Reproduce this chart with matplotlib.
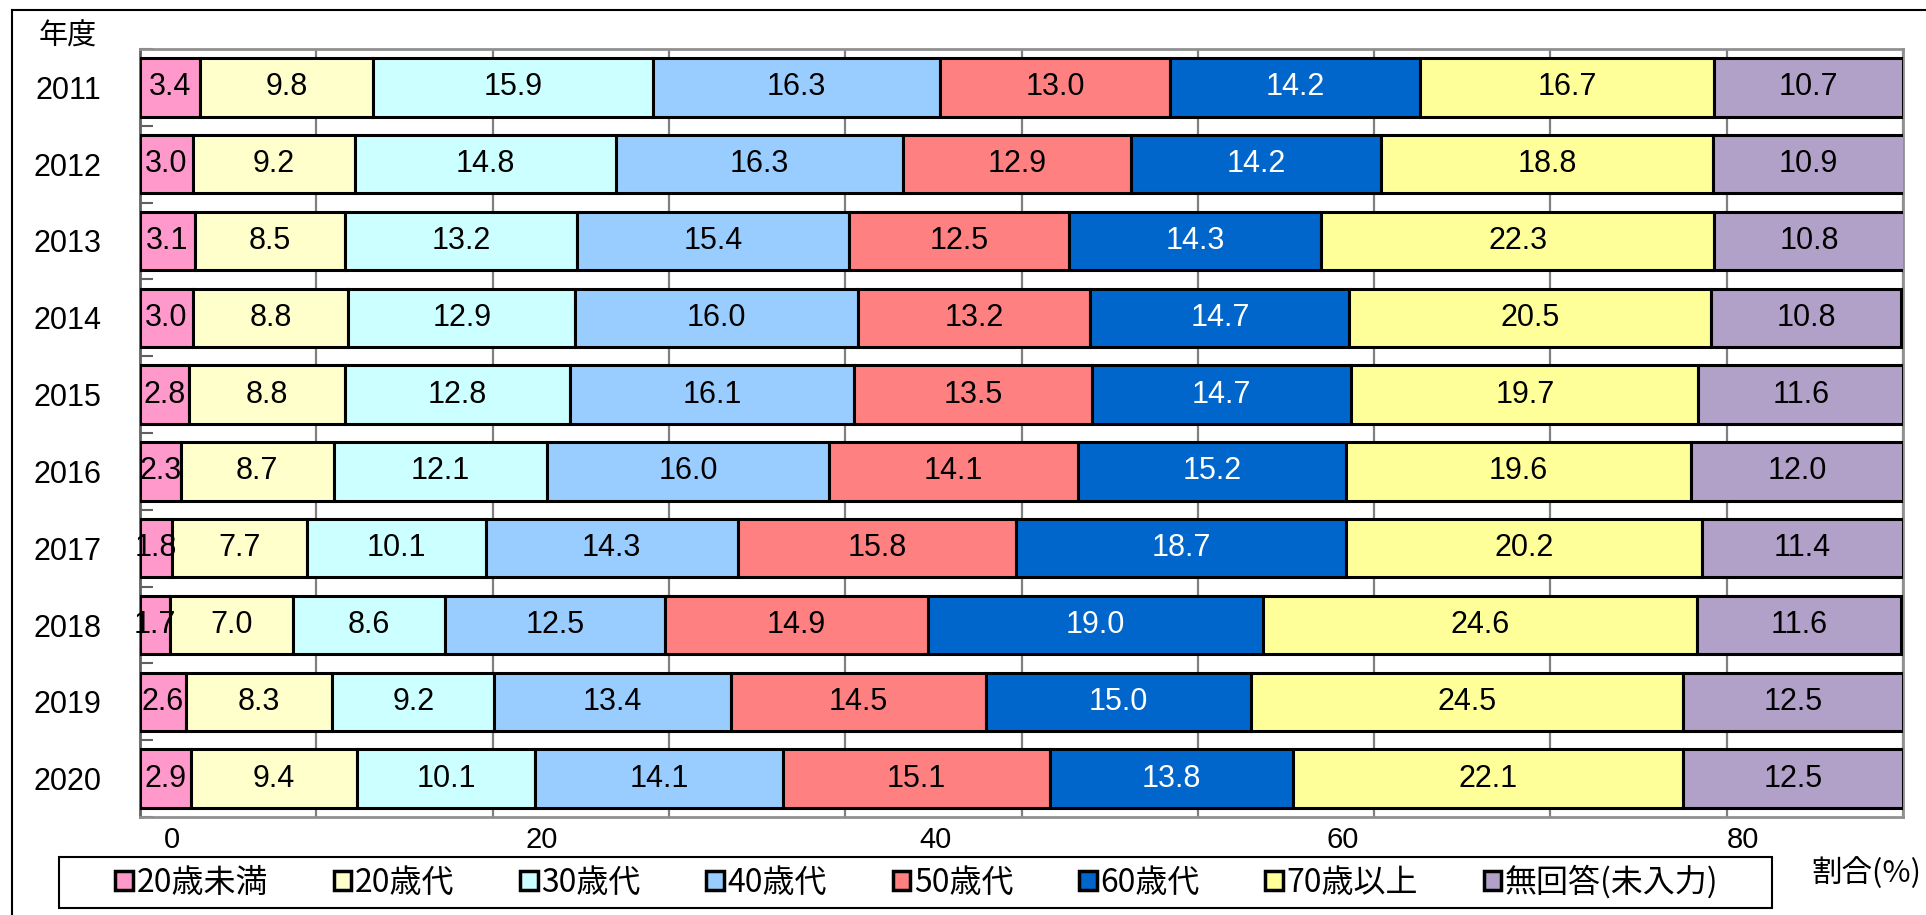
import matplotlib
matplotlib.use("Agg")
import matplotlib.pyplot as plt
from matplotlib.lines import Line2D
from matplotlib.patches import Patch, Rectangle
import numpy as np

plt.rcParams['font.family'] = ['Noto Sans CJK JP', 'DejaVu Sans']
NUMFONT = ['Liberation Sans', 'DejaVu Sans']

years = ["2011", "2012", "2013", "2014", "2015", "2016", "2017", "2018", "2019", "2020"]
categories = ["20歳未満", "20歳代", "30歳代", "40歳代", "50歳代", "60歳代", "70歳以上", "無回答(未入力)"]
under20 = [3.4, 3.0, 3.1, 3.0, 2.8, 2.3, 1.8, 1.7, 2.6, 2.9]
age20s = [9.8, 9.2, 8.5, 8.8, 8.8, 8.7, 7.7, 7.0, 8.3, 9.4]
age30s = [15.9, 14.8, 13.2, 12.9, 12.8, 12.1, 10.1, 8.6, 9.2, 10.1]
age40s = [16.3, 16.3, 15.4, 16.0, 16.1, 16.0, 14.3, 12.5, 13.4, 14.1]
age50s = [13.0, 12.9, 12.5, 13.2, 13.5, 14.1, 15.8, 14.9, 14.5, 15.1]
age60s = [14.2, 14.2, 14.3, 14.7, 14.7, 15.2, 18.7, 19.0, 15.0, 13.8]
age70plus = [16.7, 18.8, 22.3, 20.5, 19.7, 19.6, 20.2, 24.6, 24.5, 22.1]
no_answer = [10.7, 10.9, 10.8, 10.8, 11.6, 12.0, 11.4, 11.6, 12.5, 12.5]
series = [under20, age20s, age30s, age40s, age50s, age60s, age70plus, no_answer]
colors = ["#FF99CC", "#FFFFCC", "#CCFFFF", "#99CCFF", "#FF8080", "#0066CC", "#FFFF99", "#B1A0C7"]
text_colors = ["black"] * 5 + ["white"] + ["black"] * 2
xtick_labels = ["0", "20", "40", "60", "80"]

W, H = 1926, 915
fig = plt.figure(figsize=(W / 100, H / 100), dpi=100)
ax = fig.add_axes([140 / W, 1 - 817 / H, (1903 - 140) / W, (817 - 49) / H])

y = np.arange(len(years))
left = np.zeros(len(years))
for vals, col, tc in zip(series, colors, text_colors):
    vals = np.array(vals)
    ax.barh(y, vals, left=left, height=0.76, color=col, edgecolor="black",
            linewidth=2.2, zorder=3)
    for yi, (l, v) in enumerate(zip(left, vals)):
        ax.text(l + v / 2, yi, f"{v:.1f}", ha="center", va="center", fontsize=22,
                color=tc, zorder=4, family=NUMFONT)
    left = left + vals

ax.set_xlim(0, 100)
ax.set_ylim(len(years) - 0.5, -0.5)
ax.set_xticks(np.arange(0, 101, 10))
ax.set_xticklabels([])
ax.tick_params(axis="x", length=0)
ax.xaxis.grid(True, color="#808080", linewidth=1.6, zorder=0)
ax.set_axisbelow(True)
ax.set_yticks(y)
ax.set_yticklabels(years, fontsize=22, family=NUMFONT)
ax.tick_params(axis="y", length=0, pad=28)
ax.set_yticks(np.arange(-0.5, len(years), 1.0), minor=True)
ax.tick_params(axis="y", which="minor", direction="in", length=9, width=1.5, color="#606060")
for s in ["top", "right", "bottom"]:
    ax.spines[s].set_color("#909090")
    ax.spines[s].set_linewidth(2)
ax.spines["left"].set_color("#606060")
ax.spines["left"].set_linewidth(2)

# x tick labels as drawn in the reference (offset from gridlines)
label_pos = [1.8, 22.8, 45.1, 68.2, 90.9]
for p, t in zip(label_pos, xtick_labels):
    ax.text(p, -0.012, t, transform=ax.get_xaxis_transform(), ha="center", va="top",
            fontsize=21, family=NUMFONT)

fig.text(68 / W, 1 - 37 / H, "年度", ha="center", va="center", fontsize=21)
fig.text(1866 / W, 1 - 873 / H, "割合(%)", ha="center", va="center", fontsize=22)

# legend box and entries
fig.add_artist(Rectangle((59 / W, 1 - 908 / H), (1772 - 59) / W, (908 - 857) / H,
                         transform=fig.transFigure, facecolor="white", edgecolor="black",
                         linewidth=1.5, zorder=1))
handles = [Patch(facecolor=c, edgecolor="black", linewidth=2.5) for c in colors]
leg = fig.legend(handles, categories, loc="center",
                 bbox_to_anchor=(917 / W, 1 - 882 / H),
                 ncol=8, fontsize=23, frameon=False,
                 handlelength=0.55, handleheight=0.55, handletextpad=0.12,
                 columnspacing=2.05, borderpad=0, borderaxespad=0)
leg.set_zorder(2)

# outer frame
fig.add_artist(Line2D([12 / W, 12 / W], [0, 1 - 10 / H], transform=fig.transFigure,
                      color="black", linewidth=1.5))
fig.add_artist(Line2D([12 / W, 1], [1 - 10 / H, 1 - 10 / H], transform=fig.transFigure,
                      color="black", linewidth=1.5))

fig.savefig("out.png", dpi=100)
